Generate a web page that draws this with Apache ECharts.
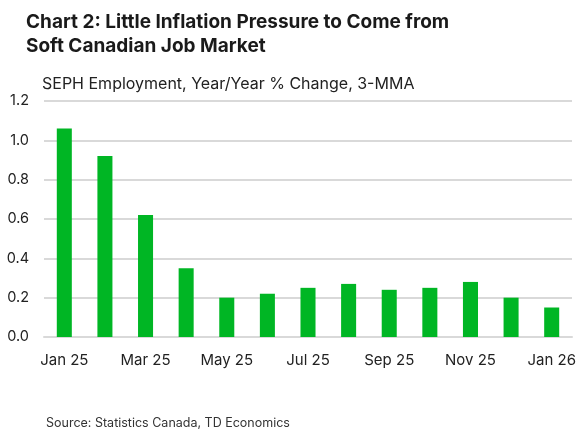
<!DOCTYPE html>
<html>
<head>
<meta charset="utf-8">
<script src="https://cdn.jsdelivr.net/npm/echarts@6/dist/echarts.min.js"></script>
<style>
  html, body { margin: 0; padding: 0; background: #fff; }
  #chart { width: 579px; height: 432px; }
</style>
</head>
<body>
<div id="chart"></div>
<script>
// months on the x axis
var months = ['Jan 25', 'Feb 25', 'Mar 25', 'Apr 25', 'May 25', 'Jun 25', 'Jul 25',
              'Aug 25', 'Sep 25', 'Oct 25', 'Nov 25', 'Dec 25', 'Jan 26'];
// SEPH employment, y/y % change, 3-month moving average
var sephEmployment = [1.06, 0.92, 0.62, 0.35, 0.20, 0.22, 0.25, 0.27, 0.24, 0.25, 0.28, 0.20, 0.15];

var font = 'Inter, "Noto Sans", sans-serif';

var chart = echarts.init(document.getElementById('chart'));

var option = {
    animation: false,
    title: [
        {
            text: 'Chart 2: Little Inflation Pressure to Come from\nSoft Canadian Job Market',
            left: 26,
            top: 10,
            padding: 0,
            textStyle: {
                fontFamily: font,
                fontSize: 19,
                fontWeight: 'bold',
                color: '#1a1a1a',
                lineHeight: 24.5
            }
        },
        {
            text: 'SEPH Employment, Year/Year % Change, 3-MMA',
            left: 42,
            top: 76.5,
            padding: 0,
            textStyle: {
                fontFamily: font,
                fontSize: 16,
                fontWeight: 'normal',
                color: '#222'
            }
        },
        {
            text: 'Source: Statistics Canada, TD Economics',
            left: 46,
            top: 416.5,
            padding: 0,
            textStyle: {
                fontFamily: font,
                fontSize: 12.5,
                fontWeight: 'normal',
                color: '#333'
            }
        }
    ],
    grid: {
        left: 44,
        right: 7,
        top: 101,
        bottom: 95,
        containLabel: false
    },
    xAxis: {
        type: 'category',
        data: months,
        axisLine: { show: true, lineStyle: { color: '#d9d9d9', width: 2 } },
        axisTick: { show: false },
        axisLabel: {
            interval: 1,
            margin: 16,
            fontFamily: font,
            fontSize: 15,
            color: '#222'
        }
    },
    yAxis: {
        type: 'value',
        min: 0,
        max: 1.2,
        interval: 0.2,
        axisLine: { show: false },
        axisTick: { show: false },
        axisLabel: {
            margin: 15,
            fontFamily: font,
            fontSize: 14.5,
            color: '#222',
            formatter: function (v) { return v.toFixed(1); }
        },
        splitLine: { lineStyle: { color: '#d9d9d9', width: 2 } }
    },
    series: [
        {
            name: 'SEPH Employment',
            type: 'bar',
            data: sephEmployment,
            barWidth: '37%',
            itemStyle: { color: '#00b624' }
        }
    ]
};

chart.setOption(option);
</script>
</body>
</html>
